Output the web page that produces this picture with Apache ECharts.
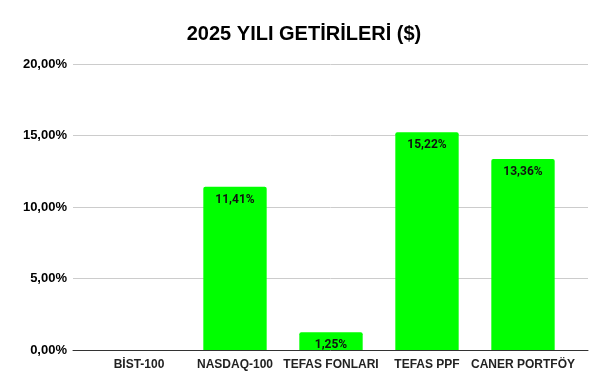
<!DOCTYPE html>
<html><head><meta charset="utf-8">
<script src="https://cdn.jsdelivr.net/npm/echarts@6/dist/echarts.min.js"></script>
<style>html,body{margin:0;padding:0;background:#fff}#c{width:608px;height:390px}</style>
</head><body><div id="c"></div>
<script>
const categories = ['BİST-100', 'NASDAQ-100', 'TEFAS FONLARI', 'TEFAS PPF', 'CANER PORTFÖY'];
const values = [null, 11.41, 1.25, 15.22, 13.36];
const yMin = 0, yMax = 20, yStep = 5;

const fmt = v => v.toFixed(2).replace('.', ',') + '%';
const chart = echarts.init(document.getElementById('c'));
chart.setOption({
  animation: false,
  title: {
    text: '2025 YILI GETİRİLERİ ($)', left: 'center', top: 19,
    textStyle: { fontFamily: 'Liberation Sans Narrow, Liberation Sans, Arial', fontWeight: 'bold', fontSize: 20, color: '#000' }
  },
  grid: [
    { left: 73, right: 20, top: 64, bottom: 40 },
    { left: 91, right: 37, top: 64, bottom: 40 }
  ],
  xAxis: [
    { type: 'category', gridIndex: 0, data: [''], axisLine: { lineStyle: { color: '#333' } }, axisTick: { show: false }, axisLabel: { show: false } },
    { type: 'category', gridIndex: 1, data: categories, axisLine: { show: false }, axisTick: { show: false },
      axisLabel: { interval: 0, margin: 9, fontFamily: 'Liberation Sans, Arial', fontWeight: 'bold', fontSize: 12, color: '#222' } }
  ],
  yAxis: [
    { type: 'value', gridIndex: 0, min: yMin, max: yMax, interval: yStep,
      axisLine: { show: false }, axisTick: { show: false },
      splitLine: { lineStyle: { color: '#cccccc' } },
      axisLabel: { margin: 6, fontFamily: 'Liberation Sans, Arial', fontWeight: 'bold', fontSize: 13, color: '#000',
        formatter: v => fmt(v) } },
    { type: 'value', gridIndex: 1, min: yMin, max: yMax, interval: yStep, show: false }
  ],
  series: [{
    type: 'bar', xAxisIndex: 1, yAxisIndex: 1, data: values,
    barCategoryGap: '34%',
    itemStyle: { color: '#00ff00', borderRadius: [2, 2, 0, 0] },
    label: { show: true, position: 'insideTop', distance: 7, formatter: p => fmt(p.value),
      fontFamily: 'Roboto, Liberation Sans', fontWeight: 'bold', fontSize: 12, color: '#111' }
  }]
});
</script></body></html>
